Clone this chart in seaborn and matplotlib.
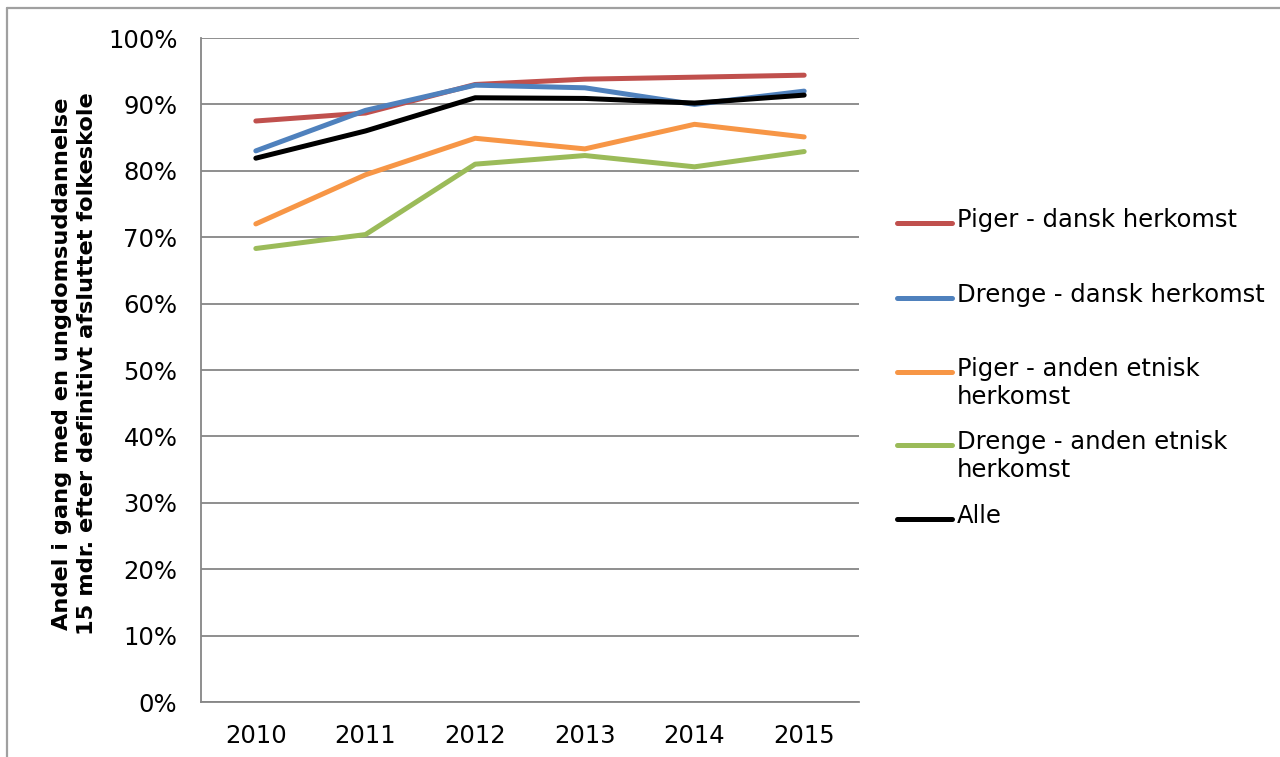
import numpy as np
import pandas as pd
import matplotlib
matplotlib.use('Agg')
import matplotlib.pyplot as plt
from matplotlib.lines import Line2D
from matplotlib.ticker import PercentFormatter, FixedLocator, NullFormatter
import seaborn as sns

# data (percent)
years = [2010, 2011, 2012, 2013, 2014, 2015]
piger_dansk = [87.5, 88.7, 93.0, 93.8, 94.1, 94.4]
drenge_dansk = [83.0, 89.1, 92.9, 92.5, 90.0, 92.0]
piger_anden = [72.0, 79.4, 84.9, 83.3, 87.0, 85.1]
drenge_anden = [68.3, 70.4, 81.0, 82.3, 80.6, 82.9]
alle = [81.9, 86.0, 91.0, 90.9, 90.2, 91.4]

series_names = ['Piger - dansk herkomst', 'Drenge - dansk herkomst',
                'Piger - anden etnisk\nherkomst', 'Drenge - anden etnisk\nherkomst', 'Alle']
series_vals = [piger_dansk, drenge_dansk, piger_anden, drenge_anden, alle]
colors = ['#C0504D', '#4F81BD', '#F79646', '#9BBB59', '#000000']

rows = []
for name, vals in zip(series_names, series_vals):
    for y, v in zip(years, vals):
        rows.append({'year': y, 'value': v, 'group': name})
df = pd.DataFrame(rows)

sns.set_style('white')
plt.rcParams['font.family'] = ['DejaVu Sans']
plt.rcParams['text.color'] = 'black'
plt.rcParams['axes.labelcolor'] = 'black'
plt.rcParams['xtick.labelcolor'] = 'black'
plt.rcParams['ytick.labelcolor'] = 'black'

fig = plt.figure(figsize=(12.8, 7.57), dpi=100)
ax = fig.add_axes([201/1280, 1 - 702/757, (859 - 201)/1280, (702 - 38)/757])

grey = '#868686'
ax.set_axisbelow(True)
ax.yaxis.grid(True, color=grey, linewidth=1.3)
ax.xaxis.grid(False)

sns.lineplot(data=df, x='year', y='value', hue='group', hue_order=series_names,
             palette=colors, linewidth=3.6, legend=False, ax=ax,
             solid_capstyle='round')

ax.set_ylim(0, 100)
ax.set_yticks(np.arange(0, 101, 10))
ax.yaxis.set_major_formatter(PercentFormatter(100, decimals=0))
ax.set_xlim(years[0] - 0.5, years[-1] + 0.5)
ax.xaxis.set_major_locator(FixedLocator(np.arange(years[0] - 0.5, years[-1] + 1, 1)))
ax.xaxis.set_major_formatter(NullFormatter())
ax.xaxis.set_minor_locator(FixedLocator(years))
ax.set_xticklabels([str(y) for y in years], minor=True)
ax.tick_params(axis='x', which='minor', length=0, pad=16, labelsize=17.5)
ax.tick_params(axis='x', which='major', length=6, width=1.3, color=grey, direction='out')
ax.tick_params(axis='y', length=6, width=1.3, color=grey, direction='out', pad=11, labelsize=17.5)

for s in ['top', 'right']:
    ax.spines[s].set_visible(False)
for s in ['left', 'bottom']:
    ax.spines[s].set_color(grey)
    ax.spines[s].set_linewidth(1.3)

ax.set_xlabel('')
ax.set_ylabel('Andel i gang med en ungdomsuddannelse\n15 mdr. efter definitivt afsluttet folkeskole',
              fontsize=16.2, fontweight='bold', linespacing=1.3)
ax.yaxis.set_label_coords(-0.192 + 22/658, 0.51)

# legend drawn at the right, handle aligned with first text line
leg_y = [223, 298, 372, 445, 519]
for name, col, yp in zip(series_names, colors, leg_y):
    yf = 1 - yp / 757
    fig.add_artist(Line2D([897/1280, 952/1280], [yf, yf], color=col, linewidth=3.6,
                          solid_capstyle='round', transform=fig.transFigure))
    fig.text(957/1280, 1 - (yp - 15) / 757, name, fontsize=17.5, va='top', ha='left',
             linespacing=1.2)

# chart frame (left and top edges visible)
fig.add_artist(Line2D([7/1280, 7/1280], [0, 1 - 8/757], color='#A0A0A0', linewidth=1.6,
                      transform=fig.transFigure))
fig.add_artist(Line2D([7/1280, 1], [1 - 8/757, 1 - 8/757], color='#A0A0A0', linewidth=1.6,
                      transform=fig.transFigure))

fig.savefig('out.png', dpi=100, facecolor='white')
